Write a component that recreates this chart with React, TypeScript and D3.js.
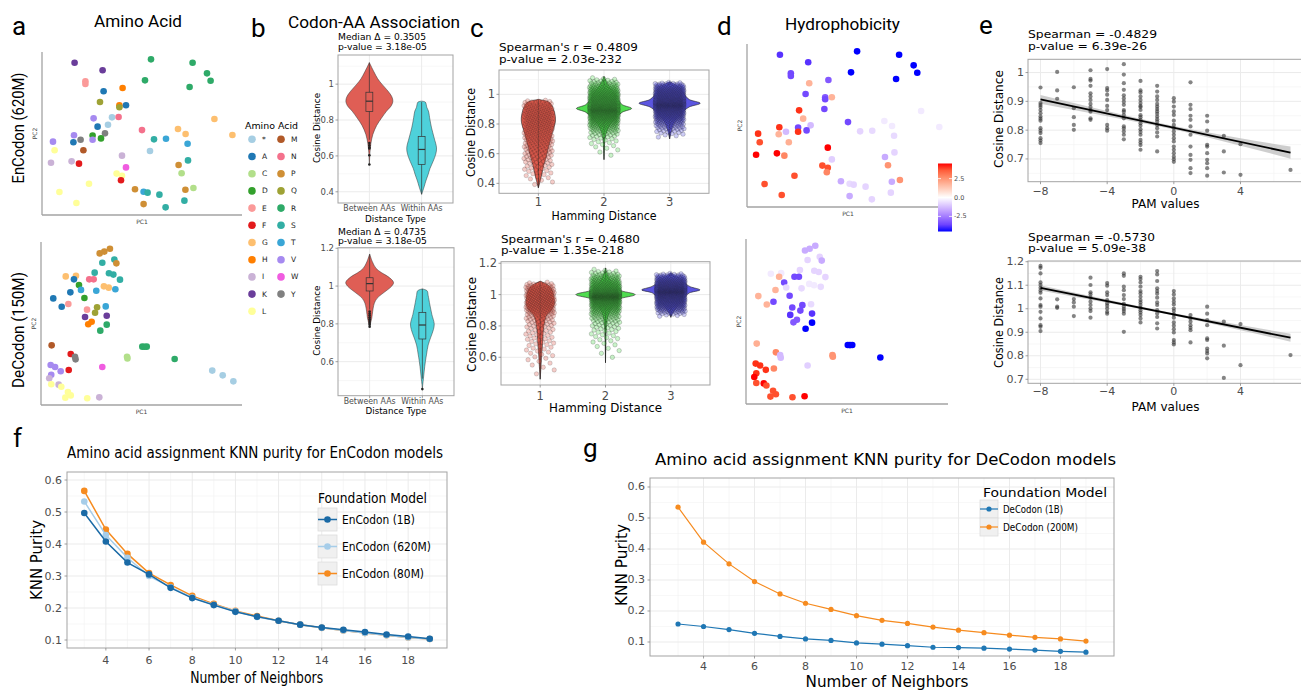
import React from 'react';
import * as d3 from 'd3';

// ================= DATA =================
const AA_LIST = ['*','A','C','D','E','F','G','H','I','K','L','M','N','P','Q','R','S','T','V','W','Y'];
const AA_COLORS = ['#a6cee3','#1f78b4','#b2df8a','#33a02c','#fb9a99','#e31a1c','#fdbf6f','#ff7f00','#cab2d6','#6a3d9a','#ffff99','#b15928','#f4718c','#cf8f35','#9ea235','#2eaa68','#32aea4','#3aa6d6','#a68af0','#f05ce0','#808080'];
const AA_HYDRO = [0,1.8,2.5,-3.5,-3.5,2.8,-0.4,-3.2,4.5,-3.9,3.8,1.9,-3.5,-1.6,-3.5,-4.5,-0.8,-0.7,4.2,-0.9,-1.3];

const ENC_AA = ['K','K','E','E','A','H','Q','H','Q','A','V','*','N','*','A','V','Y','A','V','D','Y','D','V','L','M','I','I','F','I','N','R','R','R','R','R','R','G','G','G','G','S','T','T','*','S','P','C','C','P','W','L','L','F','L','L','L','P','T','S','S','P','S','S'];
const ENC_PC1 = [16.3,30.3,21.7,21.7,30.8,40.3,29.0,38.7,38.7,42.0,25.8,35.0,38.3,33.0,27.8,16.0,19.3,15.7,5.5,25.3,31.5,29.5,25.3,6.3,20.7,4.5,14.8,18.5,40.0,50.0,54.5,75.3,82.5,84.3,51.5,73.8,86.2,95.2,68.0,71.8,56.0,62.0,72.8,54.0,73.0,68.3,69.8,75.7,71.7,42.0,37.3,40.0,39.5,23.5,8.7,17.2,46.5,50.8,52.8,58.7,50.8,61.8,71.2];
const ENC_PC2 = [93.4,88.8,82.0,80.4,75.9,77.9,69.3,67.3,66.1,67.3,59.3,59.9,60.1,55.4,54.2,48.9,46.2,44.6,45.0,48.7,50.1,47.0,46.2,39.7,39.7,32.1,32.9,31.5,36.4,52.1,95.5,93.4,86.9,82.4,82.6,78.5,58.9,49.1,52.8,49.7,46.4,46.8,43.7,39.3,33.5,30.7,25.6,16.6,15.5,29.2,25.4,24.1,21.3,19.2,14.1,7.4,15.8,14.3,13.7,12.5,6.7,4.7,8.8];

const DEC_AA = ['P','P','P','S','P','S','S','S','S','S','G','G','A','N','N','D','T','A','T','G','G','T','A','D','A','E','Q','Q','T','E','K','K','H','H','R','R','M','F','Y','Y','R','R','R','C','C','R','V','V','V','F','W','V','I','L','I','L','L','L','L','L','I','*','*','*'];
const DEC_PC1 = [29.2,31.5,34.3,36.5,37.5,30.5,26.7,33.8,36.0,39.3,12.3,17.4,16.4,24.0,26.2,18.9,19.9,14.6,27.5,31.3,33.7,37.0,6.1,21.6,10.3,13.6,27.9,26.9,32.2,22.9,21.9,32.7,23.5,25.2,32.7,29.5,5.3,14.8,16.9,17.2,50.4,51.5,52.6,42.8,43.0,66.5,4.8,7.0,9.8,13.8,30.5,5.1,4.1,5.1,8.8,10.1,13.4,14.8,12.1,23.0,29.0,85.2,90.4,95.7];
const DEC_PC2 = [93.0,94.1,95.9,89.2,86.9,87.3,81.2,80.8,80.0,76.9,78.9,79.3,77.1,77.1,77.1,73.6,70.6,69.1,70.1,72.8,72.0,71.0,65.4,65.6,60.3,62.0,59.9,56.6,60.5,58.5,54.0,54.8,49.5,51.1,49.3,45.6,36.6,31.3,29.6,28.0,35.8,35.7,35.8,29.6,28.6,28.2,24.5,23.3,20.7,21.5,23.3,18.6,16.4,12.7,12.5,11.2,8.0,5.9,4.5,4.1,4.7,21.1,18.2,14.5];

// panel b: violin profiles [value, half-width in category units], box [lo,q1,med,q3,hi]
const B_CATS = ['Between AAs','Within AAs'];
const B_COLORS = ['#df5e55','#4ed1da'];
const B_TOP_BETWEEN: [number,number][] = [[1.12,0],[1.07,0.085],[1.03,0.16],[1.0,0.24],[0.96,0.36],[0.93,0.43],[0.905,0.45],[0.88,0.42],[0.85,0.33],[0.81,0.23],[0.77,0.14],[0.72,0.067],[0.67,0.03],[0.62,0.012],[0.55,0]];
const B_TOP_WITHIN: [number,number][] = [[0.905,0],[0.9,0.07],[0.87,0.1],[0.85,0.13],[0.80,0.16],[0.756,0.19],[0.70,0.24],[0.645,0.285],[0.61,0.27],[0.57,0.22],[0.53,0.16],[0.497,0.125],[0.46,0.08],[0.43,0.05],[0.386,0]];
const B_BOT_BETWEEN: [number,number][] = [[1.17,0],[1.13,0.05],[1.094,0.12],[1.07,0.23],[1.05,0.35],[1.02,0.453],[1.0,0.42],[0.979,0.333],[0.955,0.22],[0.935,0.14],[0.91,0.09],[0.883,0.067],[0.85,0.05],[0.83,0.04],[0.785,0]];
const B_BOT_WITHIN: [number,number][] = [[0.985,0],[0.975,0.09],[0.95,0.11],[0.90,0.143],[0.85,0.18],[0.80,0.225],[0.77,0.21],[0.73,0.16],[0.688,0.11],[0.64,0.08],[0.60,0.057],[0.55,0.035],[0.51,0.02],[0.48,0.008],[0.455,0]];
const B_TOP_BOX = [[0.69,0.848,0.905,0.955,1.12],[0.386,0.552,0.636,0.709,0.9]];
const B_BOT_BOX = [[0.875,0.974,1.013,1.044,1.168],[0.51,0.72,0.794,0.861,0.985]];
const B_TOP_OUT = [[0.672,0.659,0.648,0.641,0.604,0.552],[]];
const B_BOT_OUT = [[0.865,0.855,0.845,0.835,0.825,0.815,0.805,0.795,0.785],[0.455]];

// panel c
const C_CATS = ['1','2','3'];
const C_COLORS = ['#de5a4c','#4fdc4f','#5b55e0'];
const C_COUNTS = [288,864,864];
const C_TOP_PROF: [number,number][][] = [
  [[0.965,0],[0.955,0.12],[0.94,0.18],[0.90,0.23],[0.86,0.255],[0.82,0.26],[0.78,0.24],[0.74,0.21],[0.69,0.18],[0.64,0.15],[0.58,0.12],[0.52,0.08],[0.47,0.056],[0.42,0.03],[0.37,0]],
  [[1.12,0],[1.10,0.02],[1.07,0.05],[1.04,0.1],[1.0,0.17],[0.96,0.22],[0.93,0.28],[0.905,0.42],[0.88,0.28],[0.85,0.2],[0.82,0.13],[0.78,0.07],[0.74,0.035],[0.70,0.015],[0.62,0.005],[0.56,0]],
  [[1.085,0],[1.07,0.06],[1.05,0.14],[1.02,0.2],[0.99,0.24],[0.965,0.3],[0.94,0.466],[0.915,0.3],[0.89,0.22],[0.86,0.16],[0.83,0.1],[0.80,0.06],[0.76,0.03],[0.72,0.01],[0.70,0]],
];
const C_BOT_PROF: [number,number][][] = [
  [[1.085,0],[1.07,0.08],[1.05,0.15],[1.02,0.19],[0.98,0.21],[0.94,0.215],[0.90,0.17],[0.87,0.1],[0.83,0.07],[0.78,0.05],[0.72,0.04],[0.66,0.03],[0.60,0.02],[0.54,0.012],[0.50,0.006],[0.46,0]],
  [[1.17,0],[1.14,0.02],[1.10,0.06],[1.06,0.12],[1.03,0.2],[1.0,0.454],[0.97,0.2],[0.94,0.13],[0.90,0.07],[0.86,0.035],[0.82,0.02],[0.76,0.01],[0.66,0.004],[0.565,0]],
  [[1.14,0],[1.12,0.06],[1.10,0.14],[1.07,0.22],[1.05,0.3],[1.03,0.446],[1.01,0.28],[0.98,0.2],[0.95,0.14],[0.92,0.09],[0.89,0.04],[0.855,0]],
];

// panel e
const E_PAM = [-8,-7,-6,-5,-4,-3,-2,-1,0,1,2,3,4,7];
const E_TOP_COS = [
  [0.948,0.894,0.887,0.880,0.870,0.859,0.847,0.840,0.833,0.807,0.798,0.790,0.772,0.764,0.755],
  [1.002,0.938,0.909],
  [0.949,0.876,0.845,0.818,0.801],
  [1.008,0.978,0.972,0.954,0.928,0.917,0.905,0.891,0.880,0.870,0.864,0.841,0.836],
  [1.012,0.946,0.938,0.923,0.905,0.884,0.870,0.818,0.807,0.798],
  [1.029,0.993,0.963,0.940,0.921,0.910,0.899,0.888,0.870,0.864,0.853,0.841,0.813,0.806,0.795,0.784,0.768],
  [0.971,0.938,0.931,0.917,0.905,0.894,0.884,0.880,0.870,0.852,0.845,0.836,0.824,0.815,0.803,0.794,0.784,0.766,0.757,0.748,0.732],
  [0.954,0.934,0.917,0.905,0.891,0.882,0.873,0.865,0.857,0.847,0.838,0.830,0.818,0.807,0.792,0.778,0.726],
  [0.911,0.899,0.882,0.865,0.853,0.833,0.818,0.807,0.795,0.784,0.772,0.761,0.743,0.732,0.720,0.708,0.699,0.690],
  [0.966,0.888,0.873,0.850,0.836,0.813,0.784,0.743,0.714,0.697,0.668,0.651],
  [0.850,0.830,0.798,0.749,0.743,0.720,0.697,0.685,0.668,0.642],
  [0.780,0.726,0.653],
  [0.751,0.645],
  [0.662],
];
const E_BOT_COS = [
  [1.182,1.174,1.150,1.112,1.101,1.089,1.078,1.068,1.044,1.016,1.009,0.987,0.959,0.930,0.923,0.905],
  [1.040,1.009,1.004],
  [1.041,1.027,1.009,0.969],
  [1.132,1.101,1.070,1.061,1.047,1.030,1.016,1.001,0.990,0.962],
  [1.109,1.098,1.070,1.058,1.037,1.023,1.013,1.001,0.987,0.979],
  [1.150,1.140,1.094,1.079,1.058,1.041,1.021,1.009,0.999,0.990,0.979,0.902],
  [1.136,1.126,1.112,1.094,1.075,1.065,1.051,1.037,1.027,1.016,1.004,0.994,0.984,0.973,0.959,0.942],
  [1.160,1.146,1.118,1.087,1.075,1.064,1.047,1.027,1.016,0.994,0.980,0.965,0.938,0.916],
  [1.075,1.061,1.044,1.030,1.018,1.001,0.990,0.976,0.962,0.942,0.928,0.913,0.899,0.867,0.857,0.848],
  [0.973,0.959,0.945,0.930,0.919,0.909,0.857],
  [1.009,0.979,0.952,0.930,0.874,0.867,0.831,0.820,0.810,0.789],
  [0.945,0.843,0.706],
  [0.935,0.760],
  [0.803],
];
const E_TOP_FIT = [0.907,0.722];
const E_BOT_FIT = [1.089,0.877];
const E_CI_X = [-8,-4,0,4,7];
const E_TOP_CI = [0.015,0.009,0.006,0.013,0.021];
const E_BOT_CI = [0.011,0.007,0.005,0.011,0.017];
const E_X_TICKS = [-8,-4,0,4];
const E_X_LABELS = ['\u22128','\u22124','0','4'];

// panels f & g
const K_NEIGHBORS = [3,4,5,6,7,8,9,10,11,12,13,14,15,16,17,18,19];
const ENC_1B = [0.497,0.408,0.342,0.305,0.263,0.231,0.209,0.188,0.173,0.160,0.148,0.139,0.132,0.125,0.117,0.111,0.104];
const ENC_620M = [0.533,0.428,0.357,0.300,0.265,0.233,0.210,0.190,0.172,0.160,0.148,0.138,0.130,0.122,0.115,0.108,0.103];
const ENC_80M = [0.566,0.445,0.369,0.309,0.272,0.238,0.213,0.191,0.175,0.160,0.148,0.138,0.130,0.122,0.115,0.108,0.103];
const ENC_NAMES = ['EnCodon (1B)','EnCodon (620M)','EnCodon (80M)'];
const DEC_1B = [0.158,0.150,0.140,0.128,0.118,0.110,0.105,0.097,0.093,0.088,0.083,0.082,0.080,0.077,0.074,0.070,0.067];
const DEC_200M = [0.535,0.422,0.352,0.295,0.255,0.225,0.205,0.185,0.170,0.160,0.148,0.138,0.130,0.122,0.115,0.110,0.103];
const DEC_NAMES = ['DeCodon (1B)','DeCodon (200M)'];
const KNN_Y_TICKS = [0.1,0.2,0.3,0.4,0.5,0.6];
const KNN_X_TICKS = [4,6,8,10,12,14,16,18];

// ================= STYLE / HELPERS =================
const DJ = "'DejaVu Sans', Verdana, sans-serif";
const RB = "Roboto, 'Liberation Sans', Arial, sans-serif";
const GRAY_TXT = '#4d4d4d';
const GRID_MAJ = '#ebebeb';
const GRID_MIN = '#f4f4f4';
const BORDER = '#a3a3a3';

const aaColor = (a: string) => AA_COLORS[AA_LIST.indexOf(a)];
const aaHydro = (a: string) => AA_HYDRO[AA_LIST.indexOf(a)];
const hydroColor = d3.scaleLinear<string>().domain([-4.5, 0, 4.5]).range(['#0000ff', '#ffffff', '#ff0000']).interpolate(d3.interpolateLab);

function Tx({ x, y, s, size, anchor = 'start', fill = '#000', family = DJ, w, rot = false, mid = false }: any) {
  const extra: any = w ? { textLength: w, lengthAdjust: 'spacingAndGlyphs' } : {};
  return (
    <text x={x} y={y} fontSize={size} fontFamily={family} textAnchor={anchor} fill={fill}
      dominantBaseline={mid ? 'central' : undefined}
      transform={rot ? `rotate(-90 ${x} ${y})` : undefined} {...extra}>{s}</text>
  );
}

function quantileSample(profile: [number, number][], n: number): number[] {
  const pts = [...profile].sort((a, b) => a[0] - b[0]);
  const dens = d3.scaleLinear().domain(pts.map(p => p[0])).range(pts.map(p => p[1]));
  const lo = pts[0][0], hi = pts[pts.length - 1][0];
  const N = 800;
  const grid = d3.range(N + 1).map(i => lo + (hi - lo) * i / N);
  const dv = grid.map(v => Math.max(0, dens(v)));
  const cdf = [0];
  for (let i = 1; i <= N; i++) cdf.push(cdf[i - 1] + (dv[i - 1] + dv[i]) / 2);
  const tot = cdf[N];
  const out: number[] = [];
  let j = 0;
  for (let k = 0; k < n; k++) {
    const t = (k + 0.5) / n * tot;
    while (j < N - 1 && cdf[j + 1] < t) j++;
    const seg = cdf[j + 1] - cdf[j] || 1;
    out.push(grid[j] + (t - cdf[j]) / seg * (grid[j + 1] - grid[j]));
  }
  return out;
}

function GridLines({ x, y, L, T, W, H, xMaj = [], xMin = [], yMaj = [], yMin = [] }: any) {
  return (
    <g>
      <rect x={L} y={T} width={W} height={H} fill="#fff" />
      {yMin.map((v: number, i: number) => <line key={'a' + i} x1={L} x2={L + W} y1={y(v)} y2={y(v)} stroke={GRID_MIN} strokeWidth={0.7} />)}
      {xMin.map((v: number, i: number) => <line key={'b' + i} y1={T} y2={T + H} x1={x(v)} x2={x(v)} stroke={GRID_MIN} strokeWidth={0.7} />)}
      {yMaj.map((v: number, i: number) => <line key={'c' + i} x1={L} x2={L + W} y1={y(v)} y2={y(v)} stroke={GRID_MAJ} strokeWidth={1} />)}
      {xMaj.map((v: number, i: number) => <line key={'d' + i} y1={T} y2={T + H} x1={x(v)} x2={x(v)} stroke={GRID_MAJ} strokeWidth={1} />)}
    </g>
  );
}

function AxesFrame({ x, y, L, T, W, H, xMaj, xLabs, xLabW, yMaj, yLabs, fs, yLabRight, xLabBase, tick = 2.5 }: any) {
  return (
    <g>
      <rect x={L} y={T} width={W} height={H} fill="none" stroke={BORDER} strokeWidth={1} />
      {yMaj.map((v: number, i: number) => (
        <g key={'y' + i}>
          <line x1={L - tick} x2={L} y1={y(v)} y2={y(v)} stroke="#888" strokeWidth={0.8} />
          <Tx x={yLabRight} y={y(v)} s={yLabs[i]} size={fs} anchor="end" fill={GRAY_TXT} mid />
        </g>
      ))}
      {xMaj.map((v: number, i: number) => (
        <g key={'x' + i}>
          <line x1={x(v)} x2={x(v)} y1={T + H} y2={T + H + tick} stroke="#888" strokeWidth={0.8} />
          <Tx x={x(v)} y={xLabBase} s={xLabs[i]} size={fs} anchor="middle" fill={GRAY_TXT} w={xLabW ? xLabW[i] : undefined} />
        </g>
      ))}
    </g>
  );
}

function PcaPanel({ L, T, W, H, pc1, pc2, colors }: any) {
  const x = d3.scaleLinear().domain([0, 100]).range([L, L + W]);
  const y = d3.scaleLinear().domain([0, 100]).range([T + H, T]);
  return (
    <g>
      <line x1={L} y1={T} x2={L} y2={T + H} stroke="#a3a3a3" strokeWidth={1.3} />
      <line x1={L} y1={T + H} x2={L + W} y2={T + H} stroke="#a3a3a3" strokeWidth={1.3} />
      {pc1.map((v: number, i: number) => <circle key={i} cx={x(v)} cy={y(pc2[i])} r={3.3} fill={colors[i]} />)}
      <Tx x={L + W / 2} y={T + H + 9} s="PC1" size={6} anchor="middle" fill="#444" />
      <Tx x={L - 5} y={T + H / 2} s="PC2" size={6} anchor="middle" fill="#444" rot />
    </g>
  );
}

function violinPath(prof: [number, number][], cx: number, x: any, y: any) {
  return d3.area<[number, number]>()
    .y(d => y(d[0])).x0(d => x(cx - d[1])).x1(d => x(cx + d[1]))
    .curve(d3.curveCatmullRom)(prof) || '';
}

function BPanel({ L, T, W, H, yDom, yMaj, yMin, yLabs, profs, boxes, outs, ann, annBase, xLabBase, xTitleBase, yTitleX }: any) {
  const x = d3.scaleLinear().domain([0.4, 2.6]).range([L, L + W]);
  const y = d3.scaleLinear().domain(yDom).range([T + H, T]);
  const bw = 0.066;
  return (
    <g>
      <GridLines x={x} y={y} L={L} T={T} W={W} H={H} xMaj={[1, 2]} yMaj={yMaj} yMin={yMin} />
      {profs.map((p: any, i: number) => (
        <path key={'v' + i} d={violinPath(p, i + 1, x, y)} fill={B_COLORS[i]} stroke="#333" strokeWidth={0.5} />
      ))}
      {boxes.map((b: number[], i: number) => {
        const c = i + 1;
        return (
          <g key={'bx' + i}>
            <line x1={x(c)} x2={x(c)} y1={y(b[0])} y2={y(b[1])} stroke="#333" strokeWidth={0.7} />
            <line x1={x(c)} x2={x(c)} y1={y(b[3])} y2={y(b[4])} stroke="#333" strokeWidth={0.7} />
            <rect x={x(c - bw)} width={x(c + bw) - x(c - bw)} y={y(b[3])} height={y(b[1]) - y(b[3])} fill="none" stroke="#333" strokeWidth={0.7} />
            <line x1={x(c - bw)} x2={x(c + bw)} y1={y(b[2])} y2={y(b[2])} stroke="#333" strokeWidth={1.2} />
            {outs[i].map((o: number, k: number) => <circle key={k} cx={x(c)} cy={y(o)} r={1.3} fill="#222" />)}
          </g>
        );
      })}
      <AxesFrame x={x} y={y} L={L} T={T} W={W} H={H} xMaj={[1, 2]} xLabs={B_CATS} xLabW={[52, 42]} yMaj={yMaj} yLabs={yLabs} fs={8.5} yLabRight={L - 4} xLabBase={xLabBase} />
      <Tx x={L + W / 2} y={xTitleBase} s="Distance Type" size={9.5} anchor="middle" w={61} />
      <Tx x={yTitleX} y={T + H / 2 - 1} s="Cosine Distance" size={9.5} anchor="middle" w={70} rot />
      <Tx x={L} y={annBase[0]} s={ann[0]} size={9.2} w={88} />
      <Tx x={L} y={annBase[1]} s={ann[1]} size={9.2} w={89} />
    </g>
  );
}

function CPanel({ L, T, W, H, yDom, yMaj, yMin, yLabs, profs, ann, annBase, annW, xLabBase, xTitleBase, xTitleW, yTitleX, yTitleC, yTitleW }: any) {
  const x = d3.scaleLinear().domain([0.4, 3.6]).range([L, L + W]);
  const y = d3.scaleLinear().domain(yDom).range([T + H, T]);
  const pts = profs.map((p: [number, number][], i: number) => quantileSample(p, C_COUNTS[i]));
  return (
    <g>
      <GridLines x={x} y={y} L={L} T={T} W={W} H={H} xMaj={[1, 2, 3]} yMaj={yMaj} yMin={yMin} />
      {profs.map((p: [number, number][], i: number) => (
        <g key={'v' + i}>
          <path d={violinPath(p, i + 1, x, y)} fill={C_COLORS[i]} stroke="#222" strokeWidth={0.6} />
          <line x1={x(i + 1)} x2={x(i + 1)} y1={y(p[0][0])} y2={y(p[p.length - 1][0])} stroke="#222" strokeWidth={0.7} />
        </g>
      ))}
      {pts.map((arr: number[], i: number) => (
        <g key={'p' + i}>
          {arr.map((v: number, k: number) => {
            const u = ((k * 0.6180339887 + 0.37 * (i + 1)) % 1) * 2 - 1;
            return <circle key={k} cx={x(i + 1 + u * 0.22)} cy={y(v)} r={2.2} fill={C_COLORS[i]} fillOpacity={0.3} stroke="#1a1a1a" strokeOpacity={i === 0 ? 0.32 : 0.4} strokeWidth={0.5} />;
          })}
        </g>
      ))}
      <AxesFrame x={x} y={y} L={L} T={T} W={W} H={H} xMaj={[1, 2, 3]} xLabs={C_CATS} yMaj={yMaj} yLabs={yLabs} fs={11.5} yLabRight={L - 4} xLabBase={xLabBase} />
      <Tx x={L + W / 2} y={xTitleBase} s="Hamming Distance" size={12} anchor="middle" w={xTitleW} />
      <Tx x={yTitleX} y={yTitleC} s="Cosine Distance" size={12} anchor="middle" w={yTitleW} rot />
      <Tx x={L} y={annBase[0]} s={ann[0]} size={11.2} w={annW[0]} />
      <Tx x={L} y={annBase[1]} s={ann[1]} size={11.2} w={annW[1]} />
    </g>
  );
}

function EPanel({ L, T, W, H, yDom, yMaj, yMin, yLabs, cos, fit, ci, ann, annBase, annW, xLabBase, xTitleBase, yTitleC, yTitleW }: any) {
  const x = d3.scaleLinear().domain([-8.75, 7.75]).range([L, L + W]);
  const y = d3.scaleLinear().domain(yDom).range([T + H, T]);
  const yhat = d3.scaleLinear().domain([-8, 7]).range(fit);
  const band = d3.area<number>().x(d => x(d)).y0((d, i) => y(yhat(d) - ci[i])).y1((d, i) => y(yhat(d) + ci[i])).curve(d3.curveMonotoneX)(E_CI_X) || '';
  return (
    <g>
      <GridLines x={x} y={y} L={L} T={T} W={W} H={H} xMaj={E_X_TICKS} xMin={[-6, -2, 2, 6]} yMaj={yMaj} yMin={yMin} />
      <path d={band} fill="#bdbdbd" fillOpacity={0.75} />
      {cos.map((arr: number[], i: number) => arr.map((v: number, k: number) => (
        <circle key={i + '_' + k} cx={x(E_PAM[i])} cy={y(v)} r={2.1} fill="#333" fillOpacity={0.6} />
      )))}
      <line x1={x(-8)} y1={y(fit[0])} x2={x(7)} y2={y(fit[1])} stroke="#000" strokeWidth={1.8} />
      <AxesFrame x={x} y={y} L={L} T={T} W={W} H={H} xMaj={E_X_TICKS} xLabs={E_X_LABELS} yMaj={yMaj} yLabs={yLabs} fs={11} yLabRight={L - 4} xLabBase={xLabBase} />
      <Tx x={1165.5} y={xTitleBase} s="PAM values" size={11.5} anchor="middle" w={68} />
      <Tx x={1003} y={yTitleC} s="Cosine Distance" size={12.5} anchor="middle" w={yTitleW} rot />
      <Tx x={L} y={annBase[0]} s={ann[0]} size={11.2} w={annW[0]} />
      <Tx x={L} y={annBase[1]} s={ann[1]} size={11.2} w={annW[1]} />
    </g>
  );
}

function KnnPanel({ L, T, W, H, xDom, yDom, series, colors, r, lw, fs, xLabBase }: any) {
  const x = d3.scaleLinear().domain(xDom).range([L, L + W]);
  const y = d3.scaleLinear().domain(yDom).range([T + H, T]);
  const line = d3.line<number>().x((_, i) => x(K_NEIGHBORS[i])).y(d => y(d));
  const order = series.map((_: any, i: number) => i).reverse();
  return (
    <g>
      <GridLines x={x} y={y} L={L} T={T} W={W} H={H} xMaj={KNN_X_TICKS} xMin={[3, 5, 7, 9, 11, 13, 15, 17, 19]} yMaj={KNN_Y_TICKS} yMin={[0.15, 0.25, 0.35, 0.45, 0.55]} />
      {order.map((si: number) => (
        <g key={si}>
          <path d={line(series[si]) || ''} fill="none" stroke={colors[si]} strokeWidth={lw} />
          {series[si].map((v: number, k: number) => <circle key={k} cx={x(K_NEIGHBORS[k])} cy={y(v)} r={r} fill={colors[si]} />)}
        </g>
      ))}
      <AxesFrame x={x} y={y} L={L} T={T} W={W} H={H} xMaj={KNN_X_TICKS} xLabs={KNN_X_TICKS.map(String)} yMaj={KNN_Y_TICKS} yLabs={KNN_Y_TICKS.map(v => v.toFixed(1))} fs={fs} yLabRight={L - 5} xLabBase={xLabBase} />
    </g>
  );
}

const CB_TICKS = [2.5, 0, -2.5];
const CB_LABELS = ['2.5', '0.0', '-2.5'];

export default function App() {
  const cbY = d3.scaleLinear().domain([-4.5, 4.5]).range([231.5, 163.5]);
  const encColors = ['#1a6aa6', '#a6cde9', '#f68b1f'];
  const decColors = ['#1f77b4', '#f68b1f'];
  return (
    <svg width={1301} height={691} style={{ position: 'absolute', left: 0, top: 0, background: '#fff' }}>
      <defs>
        <linearGradient id="hydroGrad" x1="0" y1="1" x2="0" y2="0">
          {d3.range(11).map(i => <stop key={i} offset={i / 10} stopColor={hydroColor(-4.5 + 0.9 * i)} />)}
        </linearGradient>
      </defs>
      <rect width={1301} height={691} fill="#fff" />

      {/* ---------- a ---------- */}
      <Tx x={12} y={35} s="a" size={26} family={RB} />
      <Tx x={138} y={27} s="Amino Acid" size={17} family={RB} anchor="middle" w={88} />
      <Tx x={24} y={128} s="EnCodon (620M)" size={16} family={RB} anchor="middle" w={111} rot />
      <Tx x={24} y={330} s="DeCodon (150M)" size={16} family={RB} anchor="middle" w={116} rot />
      <PcaPanel L={42} T={52} W={200} H={163} pc1={ENC_PC1} pc2={ENC_PC2} colors={ENC_AA.map(aaColor)} />
      <PcaPanel L={41} T={242} W={201} H={163} pc1={DEC_PC1} pc2={DEC_PC2} colors={DEC_AA.map(aaColor)} />
      <Tx x={245} y={129} s="Amino Acid" size={9.5} w={53} />
      {AA_LIST.map((a, i) => {
        const col = i < 11 ? 0 : 1;
        const row = i < 11 ? i : i - 11;
        const cy = 139.3 + row * 17.2;
        const cx = col === 0 ? 252 : 281;
        return (
          <g key={a}>
            <circle cx={cx} cy={cy} r={3.8} fill={AA_COLORS[i]} />
            <Tx x={cx + 10} y={cy} s={a} size={7.5} fill="#222" mid />
          </g>
        );
      })}

      {/* ---------- b ---------- */}
      <Tx x={251} y={37} s="b" size={26} family={RB} />
      <Tx x={374} y={28.3} s="Codon-AA Association" size={17} family={RB} anchor="middle" w={172} />
      <BPanel L={338} T={55} W={115} H={148} yDom={[0.3375, 1.1625]} yMaj={[0.4, 0.6, 0.8, 1.0]} yMin={[0.5, 0.7, 0.9, 1.1]} yLabs={['0.4', '0.6', '0.8', '1']}
        profs={[B_TOP_BETWEEN, B_TOP_WITHIN]} boxes={B_TOP_BOX} outs={B_TOP_OUT}
        ann={['Median \u0394 = 0.3505', 'p-value = 3.18e-05']} annBase={[40.2, 49.6]} xLabBase={211} xTitleBase={221.5} yTitleX={320} />
      <BPanel L={338} T={247.7} W={116} H={148} yDom={[0.42, 1.203]} yMaj={[0.6, 0.8, 1.0, 1.2]} yMin={[0.5, 0.7, 0.9, 1.1]} yLabs={['0.6', '0.8', '1', '1.2']}
        profs={[B_BOT_BETWEEN, B_BOT_WITHIN]} boxes={B_BOT_BOX} outs={B_BOT_OUT}
        ann={['Median \u0394 = 0.4735', 'p-value = 3.18e-05']} annBase={[234.5, 243.6]} xLabBase={404} xTitleBase={413.8} yTitleX={320} />

      {/* ---------- c ---------- */}
      <Tx x={470} y={37} s="c" size={26} family={RB} />
      <CPanel L={499} T={70} W={210} H={123.3} yDom={[0.333, 1.164]} yMaj={[0.4, 0.6, 0.8, 1.0]} yMin={[0.5, 0.7, 0.9, 1.1]} yLabs={['0.4', '0.6', '0.8', '1']}
        profs={C_TOP_PROF} ann={["Spearman's r = 0.4809", 'p-value = 2.03e-232']} annBase={[51.3, 62.5]} annW={[139, 123]}
        xLabBase={205.5} xTitleBase={220} xTitleW={105} yTitleX={475} yTitleC={132.5} yTitleW={89} />
      <CPanel L={501} T={261.7} W={209} H={123.3} yDom={[0.423, 1.21]} yMaj={[0.6, 0.8, 1.0, 1.2]} yMin={[0.5, 0.7, 0.9, 1.1]} yLabs={['0.6', '0.8', '1', '1.2']}
        profs={C_BOT_PROF} ann={["Spearman's r = 0.4680", 'p-value = 1.35e-218']} annBase={[242.5, 253.5]} annW={[139, 123]}
        xLabBase={400} xTitleBase={412} xTitleW={113} yTitleX={476} yTitleC={324.5} yTitleW={95} />

      {/* ---------- d ---------- */}
      <Tx x={717} y={35} s="d" size={26} family={RB} />
      <Tx x={842.5} y={30} s="Hydrophobicity" size={17} family={RB} anchor="middle" w={115} />
      <PcaPanel L={747} T={44} W={202} H={163} pc1={ENC_PC1} pc2={ENC_PC2} colors={ENC_AA.map(a => hydroColor(aaHydro(a)))} />
      <PcaPanel L={746} T={239} W={202} H={165} pc1={DEC_PC1} pc2={DEC_PC2} colors={DEC_AA.map(a => hydroColor(aaHydro(a)))} />
      <rect x={938} y={cbY(4.5)} width={14} height={cbY(-4.5) - cbY(4.5)} fill="url(#hydroGrad)" />
      {CB_TICKS.map((v, i) => (
        <g key={i}>
          <line x1={938} x2={941} y1={cbY(v)} y2={cbY(v)} stroke="#fff" strokeWidth={0.8} />
          <line x1={949} x2={952} y1={cbY(v)} y2={cbY(v)} stroke="#fff" strokeWidth={0.8} />
          <Tx x={954} y={cbY(v)} s={CB_LABELS[i]} size={6.5} fill={GRAY_TXT} mid />
        </g>
      ))}

      {/* ---------- e ---------- */}
      <Tx x={979} y={34} s="e" size={26} family={RB} />
      <EPanel L={1028} T={59.3} W={275} H={122.4} yDom={[0.621, 1.046]} yMaj={[0.7, 0.8, 0.9, 1.0]} yMin={[0.65, 0.75, 0.85, 0.95]} yLabs={['0.7', '0.8', '0.9', '1']}
        cos={E_TOP_COS} fit={E_TOP_FIT} ci={E_TOP_CI} ann={['Spearman = -0.4829', 'p-value = 6.39e-26']} annBase={[38.3, 50]} annW={[129, 119]}
        xLabBase={195} xTitleBase={208} yTitleC={119} yTitleW={98} />
      <EPanel L={1028} T={261} W={275} H={122.3} yDom={[0.683, 1.203]} yMaj={[0.7, 0.8, 0.9, 1.0, 1.1, 1.2]} yMin={[0.75, 0.85, 0.95, 1.05, 1.15]} yLabs={['0.7', '0.8', '0.9', '1', '1.1', '1.2']}
        cos={E_BOT_COS} fit={E_BOT_FIT} ci={E_BOT_CI} ann={['Spearman = -0.5730', 'p-value = 5.09e-38']} annBase={[240.8, 252]} annW={[127, 118]}
        xLabBase={395} xTitleBase={410.5} yTitleC={322.5} yTitleW={91} />

      {/* ---------- f ---------- */}
      <Tx x={13} y={447} s="f" size={26} family={RB} />
      <Tx x={255} y={458} s="Amino acid assignment KNN purity for EnCodon models" size={16} anchor="middle" w={376} />
      <KnnPanel L={67} T={472} W={380} H={176} xDom={[2.2, 19.8]} yDom={[0.075, 0.625]}
        series={[ENC_1B, ENC_620M, ENC_80M]} colors={encColors} r={3.3} lw={1.5} fs={11} xLabBase={664} />
      <Tx x={256.7} y={683} s="Number of Neighbors" size={15.5} anchor="middle" w={133} />
      <Tx x={42} y={560} s="KNN Purity" size={16} anchor="middle" w={80} rot />
      <Tx x={318} y={503} s="Foundation Model" size={14} w={109} />
      {ENC_NAMES.map((n, i) => {
        const ty = 508 + 27 * i;
        const cy = ty + 11.5;
        return (
          <g key={n}>
            <rect x={318} y={ty} width={19} height={23} fill="#f0f0f0" stroke="#dcdcdc" strokeWidth={0.8} />
            <line x1={318} x2={337} y1={cy} y2={cy} stroke={encColors[i]} strokeWidth={1.5} />
            <circle cx={327.5} cy={cy} r={3.3} fill={encColors[i]} />
            <Tx x={342} y={cy + 4.5} s={n} size={13} w={[73, 89, 82][i]} />
          </g>
        );
      })}

      {/* ---------- g ---------- */}
      <Tx x={583} y={457} s="g" size={26} family={RB} />
      <Tx x={885.5} y={465} s="Amino acid assignment KNN purity for DeCodon models" size={16} anchor="middle" w={461} />
      <KnnPanel L={650} T={478} W={464} H={178} xDom={[1.9, 20.1]} yDom={[0.0548, 0.629]}
        series={[DEC_1B, DEC_200M]} colors={decColors} r={2.6} lw={1.2} fs={11} xLabBase={670} />
      <Tx x={887} y={687} s="Number of Neighbors" size={15} anchor="middle" w={163} />
      <Tx x={627} y={565} s="KNN Purity" size={16} anchor="middle" w={82} rot />
      <Tx x={983} y={497} s="Foundation Model" size={13} w={124} />
      {DEC_NAMES.map((n, i) => {
        const ty = 500 + 18 * i;
        const cy = ty + 9;
        return (
          <g key={n}>
            <rect x={980} y={ty} width={18} height={18} fill="#f0f0f0" stroke="#dcdcdc" strokeWidth={0.8} />
            <line x1={980} x2={998} y1={cy} y2={cy} stroke={decColors[i]} strokeWidth={1.2} />
            <circle cx={989} cy={cy} r={2.6} fill={decColors[i]} />
            <Tx x={1003} y={cy + 3.5} s={n} size={10} w={[60, 75][i]} />
          </g>
        );
      })}
    </svg>
  );
}
